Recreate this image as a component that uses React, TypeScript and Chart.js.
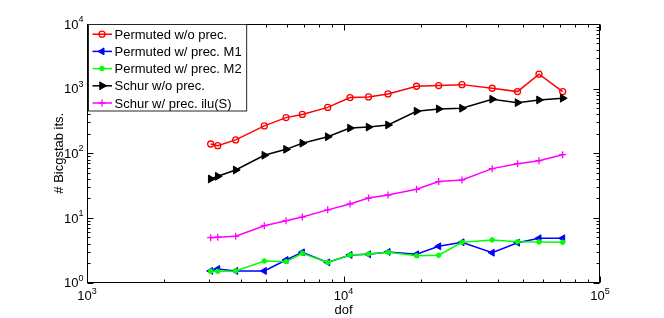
import React, { useEffect, useRef } from 'react';
import { Chart, registerables } from 'chart.js';
import { drawPoint } from 'chart.js/helpers';

Chart.register(...registerables);

// ---- data ----
const dof = [3035, 3233, 3799, 4912, 5969, 6910, 8678, 10600, 12518, 14910, 19260, 23500, 28970, 37990, 47700, 57830, 71530];

const permutedNoPrec = [139, 131, 161, 265, 356, 399, 512, 726, 744, 828, 1089, 1113, 1153, 1014, 899, 1671, 899];
const permutedM1 = [1.51, 1.62, 1.51, 1.51, 2.23, 2.93, 2.05, 2.67, 2.73, 2.97, 2.73, 3.63, 4.19, 2.89, 4.13, 4.83, 4.83];
const permutedM2 = [1.49, 1.49, 1.51, 2.15, 2.1, 2.83, 2.05, 2.67, 2.76, 2.93, 2.6, 2.64, 4.19, 4.55, 4.28, 4.24, 4.19];
const schurNoPrec = [40, 44, 55, 93, 115, 143, 180, 245, 254, 274, 447, 485, 497, 685, 607, 668, 710];
const schurIlu = [4.94, 5.01, 5.19, 7.57, 9.05, 10.3, 13.3, 16.4, 20.3, 22.6, 27.7, 36.4, 38.6, 57.8, 69.0, 76.8, 95.1];

const seriesLabels = [
  'Permuted w/o prec.',
  'Permuted w/ prec. M1',
  'Permuted w/ prec. M2',
  'Schur w/o prec.',
  'Schur w/ prec. ilu(S)',
];

const xTitle = 'dof';
const yTitle = '# Bicgstab its.';
const xMin = 1e3;
const xMax = 1e5;
const yMin = 1e0;
const yMax = 1e4;

const FONT = "'Liberation Sans', Arial, Helvetica, sans-serif";

const toPoints = (ys: number[]) => dof.map((x, i) => ({ x, y: ys[i] }));

const matlabPlugin = {
  id: 'matlabAxes',
  afterDatasetsDraw(chart: any) {
    const { ctx, chartArea: a } = chart;
    const xs = chart.scales.x;
    const ys = chart.scales.y;
    ctx.save();

    // box
    ctx.strokeStyle = '#000';
    ctx.lineWidth = 1;
    const L = Math.round(a.left) + 0.5;
    const R = Math.round(a.right) - 0.5;
    const T = Math.round(a.top) + 0.5;
    const B = Math.round(a.bottom) - 0.5;
    ctx.strokeRect(L, T, R - L, B - T);

    // ticks (inward)
    ctx.beginPath();
    for (let k = Math.floor(Math.log10(xs.min)); k <= Math.ceil(Math.log10(xs.max)); k++) {
      for (let m = 1; m <= 9; m++) {
        const v = m * Math.pow(10, k);
        if (v < xs.min * 0.999 || v > xs.max * 1.001) continue;
        const px = Math.round(xs.getPixelForValue(v)) + 0.5;
        const len = m === 1 ? 6 : 3;
        ctx.moveTo(px, B); ctx.lineTo(px, B - len);
        ctx.moveTo(px, T); ctx.lineTo(px, T + len);
      }
    }
    for (let k = Math.floor(Math.log10(ys.min)); k <= Math.ceil(Math.log10(ys.max)); k++) {
      for (let m = 1; m <= 9; m++) {
        const v = m * Math.pow(10, k);
        if (v < ys.min * 0.999 || v > ys.max * 1.001) continue;
        const py = Math.round(ys.getPixelForValue(v)) + 0.5;
        const len = m === 1 ? 6 : 3;
        ctx.moveTo(L, py); ctx.lineTo(L + len, py);
        ctx.moveTo(R, py); ctx.lineTo(R - len, py);
      }
    }
    ctx.stroke();

    // tick labels 10^k
    const big = `13px ${FONT}`;
    const small = `9px ${FONT}`;
    ctx.fillStyle = '#000';
    ctx.textBaseline = 'alphabetic';
    ctx.textAlign = 'left';
    for (let k = Math.ceil(Math.log10(xs.min) - 1e-9); k <= Math.floor(Math.log10(xs.max) + 1e-9); k++) {
      const px = xs.getPixelForValue(Math.pow(10, k));
      ctx.font = big;
      const w1 = ctx.measureText('10').width;
      ctx.font = small;
      const w2 = ctx.measureText(String(k)).width;
      const x0 = px - (w1 + w2) / 2;
      ctx.font = big;
      ctx.fillText('10', x0, a.bottom + 17.5);
      ctx.font = small;
      ctx.fillText(String(k), x0 + w1, a.bottom + 11);
    }
    for (let k = Math.ceil(Math.log10(ys.min) - 1e-9); k <= Math.floor(Math.log10(ys.max) + 1e-9); k++) {
      const py = ys.getPixelForValue(Math.pow(10, k));
      ctx.font = big;
      const w1 = ctx.measureText('10').width;
      ctx.font = small;
      const w2 = ctx.measureText(String(k)).width;
      const x0 = a.left - 3.5 - (w1 + w2);
      ctx.font = big;
      ctx.fillText('10', x0, py + 4.7);
      ctx.font = small;
      ctx.fillText(String(k), x0 + w1, py - 2);
    }

    // legend box
    const dsets = chart.data.datasets;
    ctx.font = big;
    let maxW = 0;
    dsets.forEach((d: any) => { maxW = Math.max(maxW, ctx.measureText(d.label).width); });
    const lx = Math.round(a.left) + 1.5;
    const ly = T;
    const lw = 26 + maxW + 5;
    const rowH = 17.2;
    const lh = 9.7 + rowH * (dsets.length - 1) + 8;
    ctx.fillStyle = '#fff';
    ctx.fillRect(lx, ly, lw, lh);
    ctx.strokeStyle = '#262626';
    ctx.lineWidth = 1;
    ctx.strokeRect(lx, ly, lw, lh);
    dsets.forEach((d: any, i: number) => {
      const cy = ly + 9.7 + rowH * i;
      ctx.strokeStyle = d.borderColor;
      ctx.lineWidth = d.borderWidth;
      ctx.beginPath();
      ctx.moveTo(lx + 4, cy);
      ctx.lineTo(lx + 23.5, cy);
      ctx.stroke();
      ctx.fillStyle = d.pointBackgroundColor;
      ctx.strokeStyle = d.pointBorderColor;
      ctx.lineWidth = d.pointBorderWidth;
      drawPoint(ctx, {
        pointStyle: d.pointStyle,
        rotation: d.pointRotation || 0,
        radius: d.pointRadius,
        borderWidth: d.pointBorderWidth,
      } as any, lx + 13.5, cy);
      ctx.fillStyle = '#000';
      ctx.font = big;
      ctx.fillText(d.label, lx + 26, cy + 4.6);
    });

    ctx.restore();
  },
};

export default function App() {
  const canvasRef = useRef<HTMLCanvasElement | null>(null);

  useEffect(() => {
    const canvas = canvasRef.current;
    if (!canvas) return;
    const colors = ['#ff0000', '#0000ff', '#00ff00', '#000000', '#ff00ff'];
    const values = [permutedNoPrec, permutedM1, permutedM2, schurNoPrec, schurIlu];
    const styles: any[] = [
      { pointStyle: 'circle', pointRadius: 3, pointRotation: 0, fill: 'rgba(0,0,0,0)', pbw: 1.3 },
      { pointStyle: 'triangle', pointRadius: 4, pointRotation: -90, fill: '#0000ff', pbw: 1 },
      { pointStyle: 'circle', pointRadius: 2.3, pointRotation: 0, fill: '#00ff00', pbw: 1 },
      { pointStyle: 'triangle', pointRadius: 4.5, pointRotation: 90, fill: '#000000', pbw: 1 },
      { pointStyle: 'cross', pointRadius: 3.5, pointRotation: 0, fill: '#ff00ff', pbw: 1.3 },
    ];
    const datasets = values.map((v, i) => ({
      label: seriesLabels[i],
      data: toPoints(v),
      borderColor: colors[i],
      borderWidth: 1.5,
      backgroundColor: colors[i],
      pointStyle: styles[i].pointStyle,
      pointRadius: styles[i].pointRadius,
      pointRotation: styles[i].pointRotation,
      pointBackgroundColor: styles[i].fill,
      pointBorderColor: colors[i],
      pointBorderWidth: styles[i].pbw,
      pointHoverRadius: styles[i].pointRadius,
      tension: 0,
      fill: false,
      order: values.length - i,
    }));

    const chart = new Chart(canvas, {
      type: 'line',
      data: { datasets },
      options: {
        animation: false,
        responsive: false,
        devicePixelRatio: 1,
        parsing: true,
        layout: { padding: { left: 0, right: 64, top: 24, bottom: 0 } },
        plugins: {
          legend: { display: false },
          tooltip: { enabled: false },
        },
        scales: {
          x: {
            type: 'logarithmic',
            min: xMin,
            max: xMax,
            position: 'bottom',
            grid: { display: false },
            border: { display: false },
            ticks: { display: false },
            title: {
              display: true,
              text: xTitle,
              color: '#000',
              font: { family: FONT, size: 13, lineHeight: 1.2 },
              padding: { top: 0, bottom: 0 },
            },
            afterFit: (s: any) => { s.height = 35.5; },
          },
          y: {
            type: 'logarithmic',
            min: yMin,
            max: yMax,
            position: 'left',
            grid: { display: false },
            border: { display: false },
            ticks: { display: false },
            title: {
              display: true,
              text: yTitle,
              color: '#000',
              font: { family: FONT, size: 13, lineHeight: 1.2 },
              padding: { top: 52, bottom: 0 },
            },
            afterFit: (s: any) => { s.width = 87; },
          },
        },
      } as any,
      plugins: [matlabPlugin],
    });
    return () => chart.destroy();
  }, []);

  return (
    <div style={{ position: 'fixed', left: 0, top: 0, width: 664, height: 318, background: '#fff' }}>
      <canvas ref={canvasRef} width={664} height={318} style={{ display: 'block', width: 664, height: 318 }} />
    </div>
  );
}
